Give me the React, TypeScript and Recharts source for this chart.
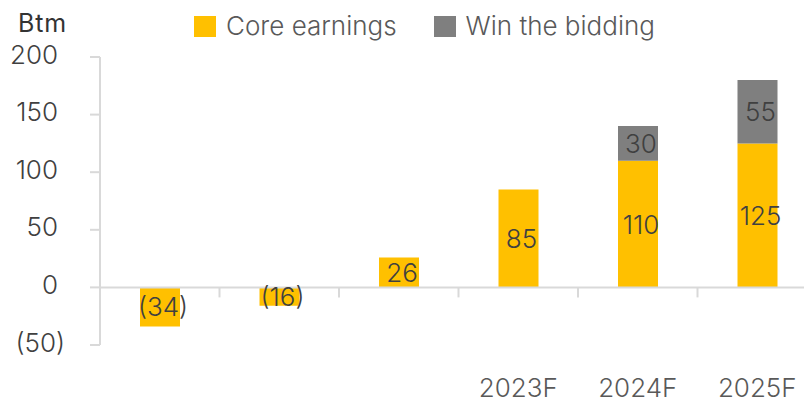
import React from "react";
import { BarChart, Bar, XAxis, YAxis, ReferenceLine, LabelList } from "recharts";

const categories = ["p1", "p2", "p3", "2023F", "2024F", "2025F"];
const tickLabels = ["", "", "", "2023F", "2024F", "2025F"];
const coreEarnings = [-34, -16, 26, 85, 110, 125];
const winBidding = [null, null, null, null, 30, 55];
const yTicks = [-50, 0, 50, 100, 150, 200];

const data = categories.map((c, i) => ({
  name: c,
  label: tickLabels[i],
  core: coreEarnings[i],
  win: winBidding[i],
}));

const FONT = "Inter, sans-serif";
const TXT = "#404040";
const GOLD = "#FFC000";
const GRAY = "#7F7F7F";
const GRID = "#D9D9D9";
const FS = 26;

const fmt = (v: number) => (v < 0 ? `(${Math.abs(v)})` : `${v}`);

const YTick = (props: any) => {
  const { x, y, payload } = props;
  const v = payload.value as number;
  const endX = v < 0 ? x - 25 : x - 32;
  return (
    <text x={endX} y={y - 3} textAnchor="end" dominantBaseline="central" fontSize={FS} fill={TXT} fontFamily={FONT} fontWeight={300}>
      {fmt(v)}
    </text>
  );
};

const XTick = (props: any) => {
  const { x, y, index } = props;
  return (
    <text x={x} y={y + 42} textAnchor="middle" dominantBaseline="central" fontSize={FS} fill="#595959" fontFamily={FONT} fontWeight={300}>
      {tickLabels[index]}
    </text>
  );
};

const makeLabel = (color: string) => (props: any) => {
  const { x, y, width, height, value } = props;
  if (value === null || value === undefined || value === 0) return null;
  return (
    <text
      x={x + width / 2 + 3}
      y={y + height / 2}
      textAnchor="middle"
      dominantBaseline="central"
      fontSize={FS}
      fill={color}
      fontFamily={FONT}
      fontWeight={300}
    >
      {fmt(value)}
    </text>
  );
};

const ZeroLine = (props: any) => {
  const { x1, y1, x2, y2 } = props;
  const n = categories.length;
  const marks = [];
  for (let i = 1; i <= n; i++) {
    const bx = x1 + ((x2 - x1) * i) / n;
    marks.push(<line key={i} x1={bx} y1={y1} x2={bx} y2={y1 + 10} stroke={GRID} strokeWidth={2} />);
  }
  return (
    <g>
      <line x1={x1} y1={y1} x2={x2} y2={y2} stroke={GRID} strokeWidth={2} />
      {marks}
    </g>
  );
};

export default function App() {
  return (
    <div style={{ position: "absolute", left: 0, top: 0, width: 804, height: 409, overflow: "hidden", background: "#fff" }}>
      <div style={{ position: "absolute", left: 18, top: 7, fontFamily: FONT, fontWeight: 400, fontSize: 25, color: "#333", lineHeight: "32px", letterSpacing: 0.8 }}>
        Btm
      </div>
      <div
        style={{
          position: "absolute",
          left: 194,
          top: 10,
          display: "flex",
          alignItems: "center",
          fontFamily: FONT,
          fontWeight: 300,
          fontSize: FS,
          color: "#595959",
          lineHeight: "32px",
          whiteSpace: "nowrap",
        }}
      >
        <span style={{ display: "inline-block", width: 22, height: 21, background: GOLD, marginRight: 10 }} />
        <span>Core earnings</span>
        <span style={{ display: "inline-block", width: 22, height: 21, background: GRAY, marginLeft: 37, marginRight: 10 }} />
        <span>Win the bidding</span>
      </div>
      <BarChart
        width={850}
        height={409}
        data={data}
        margin={{ top: 57, right: 33, bottom: 0, left: 0 }}
        barSize={40}
        style={{ position: "absolute", left: 0, top: 0 }}
      >
        <XAxis
          dataKey="name"
          height={64}
          axisLine={false}
          tickLine={false}
          tickSize={0}
          tickMargin={0}
          tick={<XTick />}
          interval={0}
        />
        <YAxis
          width={100}
          domain={[-50, 200]}
          ticks={yTicks}
          interval={0}
          axisLine={{ stroke: GRID, strokeWidth: 2 }}
          tickLine={{ stroke: GRID, strokeWidth: 2 }}
          tickSize={10}
          tickMargin={0}
          tick={<YTick />}
        />
        <ReferenceLine y={0} shape={<ZeroLine />} />
        <Bar dataKey="core" stackId="a" fill={GOLD} isAnimationActive={false}>
          <LabelList dataKey="core" content={makeLabel(TXT)} />
        </Bar>
        <Bar dataKey="win" stackId="a" fill={GRAY} isAnimationActive={false}>
          <LabelList dataKey="win" content={makeLabel(TXT)} />
        </Bar>
      </BarChart>
    </div>
  );
}
